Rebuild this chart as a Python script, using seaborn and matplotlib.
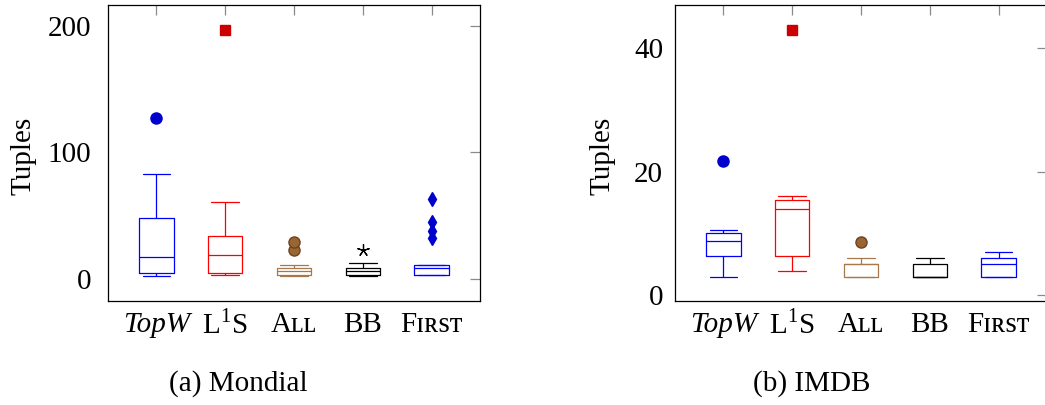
import numpy as np
import pandas as pd
import matplotlib
matplotlib.use("Agg")
import matplotlib.pyplot as plt
import seaborn as sns

# methods on the x axis and how their tick labels are written
methods = ["TopW", "L1S", "All", "BB", "First"]
tick_labels = ["TopW", r"L$^{\mathregular{1}}$S", "A\u029f\u029f", "BB", "F\u026a\u0280s\u1d1b"]
box_colors = ["#0000FF", "#FF0000", "#A8784A", "#000000", "#0000FF"]

# tuples per query, Mondial
mondial_topw = [2, 4, 5, 10, 17, 30, 48, 83, 127]
mondial_l1s = [3, 4, 5, 12, 19, 25, 34, 61, 197]
mondial_all = [2.6, 3, 3, 3.4, 4, 5, 6, 7, 8, 8.7, 10.7, 23, 29.5]
mondial_bb = [2.6, 3, 3.4, 5, 6, 7, 8.7, 12.6, 22.6]
mondial_first = [3.4, 3.4, 3.4, 3.4, 3.4, 5, 7, 8, 9, 9.5, 10, 10.5, 10.7, 32.4, 37.6, 44.7, 63.4]

# tuples per query, IMDB
imdb_topw = [3, 5, 6.3, 8, 8.8, 9.5, 10, 10.6, 21.8]
imdb_l1s = [4, 5, 6.4, 10, 14, 15, 15.5, 16, 43]
imdb_all = [3, 3, 3, 4, 5, 5, 5.1, 6, 8.6]
imdb_bb = [3, 3, 3, 3, 3, 4, 5, 6, 6]
imdb_first = [3, 3, 3, 4, 5, 5, 6, 7, 7]


def to_frame(columns):
    rows = []
    for name, vals in zip(methods, columns):
        for v in vals:
            rows.append({"method": name, "tuples": v})
    return pd.DataFrame(rows)


mondial = to_frame([mondial_topw, mondial_l1s, mondial_all, mondial_bb, mondial_first])
imdb = to_frame([imdb_topw, imdb_l1s, imdb_all, imdb_bb, imdb_first])

# outlier marker per method
flier_styles = [
    dict(marker="o", markerfacecolor="#0000CC", markeredgecolor="#0000CC", markersize=8),
    dict(marker="s", markerfacecolor="#CC0000", markeredgecolor="#CC0000", markersize=7),
    dict(marker="o", markerfacecolor="#996633", markeredgecolor="#6b4420", markersize=8),
    dict(marker=(5, 2, 0), markerfacecolor="black", markeredgecolor="black", markersize=9,
         markeredgewidth=0.9),
    dict(marker="d", markerfacecolor="#0000CC", markeredgecolor="#0000CC", markersize=7.5),
]

sns.set_style("white")
plt.rcParams["font.family"] = ["Liberation Serif", "DejaVu Serif", "DejaVu Sans"]
plt.rcParams["mathtext.fontset"] = "stix"
plt.rcParams["text.color"] = "black"
plt.rcParams["xtick.labelcolor"] = "black"
plt.rcParams["ytick.labelcolor"] = "black"
plt.rcParams["axes.labelcolor"] = "black"


def plot_panel(ax, df, ylim, yticks, ypad, ylabel_x):
    sns.boxplot(data=df, x="method", y="tuples", hue="method", order=methods,
                hue_order=methods, palette=box_colors, fill=False, width=0.5,
                linewidth=0.9, whis=1.5, legend=False, capwidths=0.4, ax=ax)

    # restyle the outliers that seaborn computed
    for line in ax.lines:
        xd = np.asarray(line.get_xdata(), dtype=float)
        if line.get_marker() in (None, "None", "", " ") or len(xd) == 0:
            continue
        if line.get_linestyle() not in ("None", "none", ""):
            continue
        idx = int(round(xd[0]))
        line.set(**flier_styles[idx])

    ax.set_xlim(-0.705, 4.705)
    ax.set_ylim(*ylim)
    ax.set_yticks(yticks)
    ax.set_xticks(range(len(methods)))
    ax.set_xticklabels(tick_labels)
    ax.get_xticklabels()[0].set_fontstyle("italic")
    ax.set_xlabel("")
    ax.set_ylabel("Tuples", fontsize=21, va="center", color="black")
    ax.yaxis.set_label_coords(ylabel_x, 0.49)

    ax.tick_params(direction="in", length=7, width=0.9, color="#8a8a8a",
                   top=True, right=True, labelsize=21, labelcolor="black")
    ax.tick_params(axis="y", pad=ypad)
    ax.tick_params(axis="x", pad=8)
    for sp in ax.spines.values():
        sp.set_visible(True)
        sp.set_color("black")
        sp.set_linewidth(0.9)


W, H = 1045, 405
fig = plt.figure(figsize=(W / 100, H / 100), dpi=100)
ax1 = fig.add_axes([108 / W, 1 - 300.5 / H, 372 / W, 295.5 / H])
ax2 = fig.add_axes([675 / W, 1 - 300.5 / H, 372 / W, 295.5 / H])

plot_panel(ax1, mondial, (-17, 216.6), [0, 100, 200], 12, -0.228)
plot_panel(ax2, imdb, (-0.85, 47.0), [0, 20, 40], 8.5, -0.196)

fig.text(238 / W, 1 - 384 / H, "(a) Mondial", ha="center", va="center", fontsize=21)
fig.text(812 / W, 1 - 384 / H, "(b) IMDB", ha="center", va="center", fontsize=21)

fig.savefig("out.png", dpi=100)
